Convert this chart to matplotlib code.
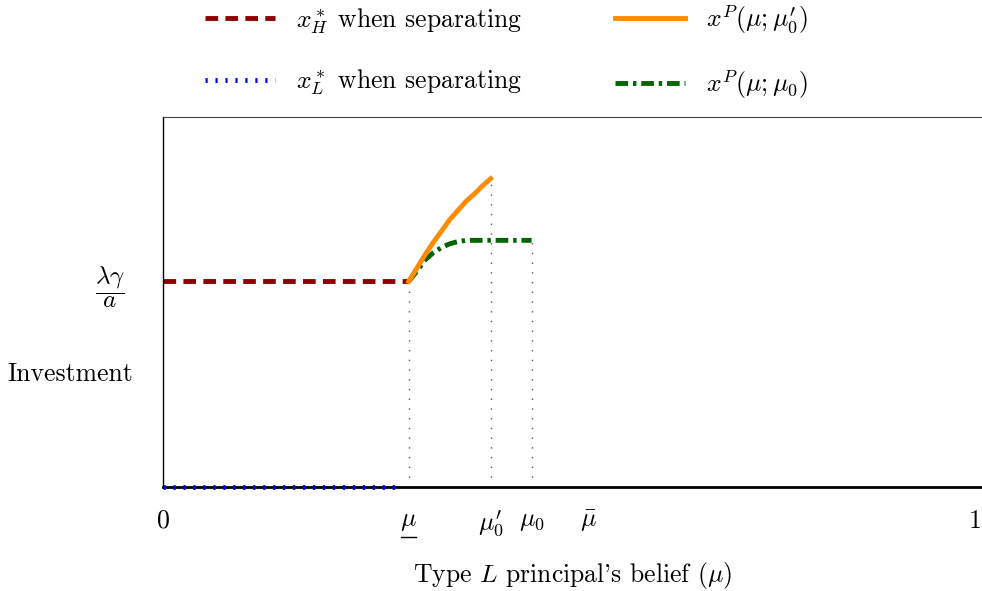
import numpy as np
import matplotlib
matplotlib.use("Agg")
import matplotlib.pyplot as plt
import matplotlib.transforms as mtransforms

plt.rcParams['mathtext.fontset'] = 'cm'
plt.rcParams['font.family'] = ['cmr10', 'DejaVu Serif']
plt.rcParams['axes.unicode_minus'] = False
plt.rcParams['axes.formatter.use_mathtext'] = True

# data
mu_low = 0.30      # underline mu
mu0p = 0.40        # mu_0'
mu0 = 0.45         # mu_0
mu_bar = 0.52      # bar mu
xH_level = 1.0     # lambda*gamma/a
xL_end = 0.29

xH_x = [0.0, mu_low]
xH_y = [xH_level, xH_level]
xL_x = [0.0, xL_end]
xL_y = [0.0, 0.0]

orange_x = [0.30, 0.31, 0.32, 0.33, 0.34, 0.35, 0.36, 0.37, 0.38, 0.385, 0.39, 0.40]
orange_y = [1.00, 1.065, 1.13, 1.19, 1.245, 1.30, 1.345, 1.39, 1.425, 1.445, 1.465, 1.50]
green_x = [0.30, 0.31, 0.32, 0.33, 0.34, 0.35, 0.36, 0.37, 0.38, 0.40, 0.45]
green_y = [1.00, 1.05, 1.105, 1.14, 1.165, 1.183, 1.194, 1.20, 1.20, 1.20, 1.20]

xtick_pos = [0.0, mu_low, mu0p, mu0, mu_bar, 1.0]
xtick_labels = ['0', r'$\mu$', r"$\mu_0'$", r'$\mu_0$', r'$\bar{\mu}$', '1']

FS = 18.5
LW = 3.5

fig = plt.figure(figsize=(9.82, 5.91), dpi=100)
ax = fig.add_axes([0.166, 0.176, 0.834, 0.626])

ax.plot(xH_x, xH_y, color='#8b0000', lw=LW, ls=(0, (2.6, 1.5)), label=r'$x_H^*$ when separating')
ax.plot(xL_x, xL_y, color='#0000ff', lw=LW, ls=(0, (0.45, 1.6)), label=r'$x_L^*$ when separating',
        zorder=4, clip_on=False)
ax.plot(orange_x, orange_y, color='#ff8c00', lw=LW, label=r"$x^P(\mu;\mu_0')$", zorder=5)
ax.plot(green_x, green_y, color='#006400', lw=LW, ls=(0, (2.6, 1.0, 0.7, 1.0)), label=r'$x^P(\mu;\mu_0)$', zorder=4)

ax.plot([mu_low, mu_low], [0, xH_level], color='#555555', lw=1, ls=(0, (1, 6)))
ax.plot([mu0p, mu0p], [0, orange_y[-1]], color='#555555', lw=1, ls=(0, (1, 6)))
ax.plot([mu0, mu0], [0, green_y[-1]], color='#555555', lw=1, ls=(0, (1, 6)))

ax.set_xlim(0, 1)
ax.set_ylim(0, 1.8)
ax.set_xticks(xtick_pos)
ax.set_xticklabels(xtick_labels, fontsize=FS)
lbls = ax.get_xticklabels()
lbls[-1].set_ha('right')
ax.set_yticks([xH_level])
ax.set_yticklabels([r'$\dfrac{\lambda\gamma}{a}$'], fontsize=18)
ax.tick_params(length=0, pad=16)
ax.tick_params(axis='y', pad=27)

# underline of the mu tick label
trans = mtransforms.blended_transform_factory(ax.transData, ax.transAxes)
ax.plot([mu_low - 0.009, mu_low + 0.009], [-0.135, -0.135], color='black', lw=1,
        transform=trans, clip_on=False)

ax.spines['right'].set_visible(False)
ax.spines['bottom'].set_linewidth(2)
ax.spines['top'].set_color('#444444')
ax.spines['left'].set_linewidth(1)

ax.set_xlabel(r"Type $L$ principal's belief ($\mu$)", fontsize=FS, labelpad=15)
ax.set_ylabel('Investment', fontsize=FS, rotation=0, labelpad=0)
ax.yaxis.set_label_coords(-0.113, 0.273)

h, l = ax.get_legend_handles_labels()
fig.legend(h, l, loc='upper left', bbox_to_anchor=(0.185, 1.033), ncol=2, frameon=False,
           fontsize=FS, handlelength=2.75, columnspacing=3.6, labelspacing=1.25, handletextpad=0.8)

fig.savefig('out.png', dpi=100)
